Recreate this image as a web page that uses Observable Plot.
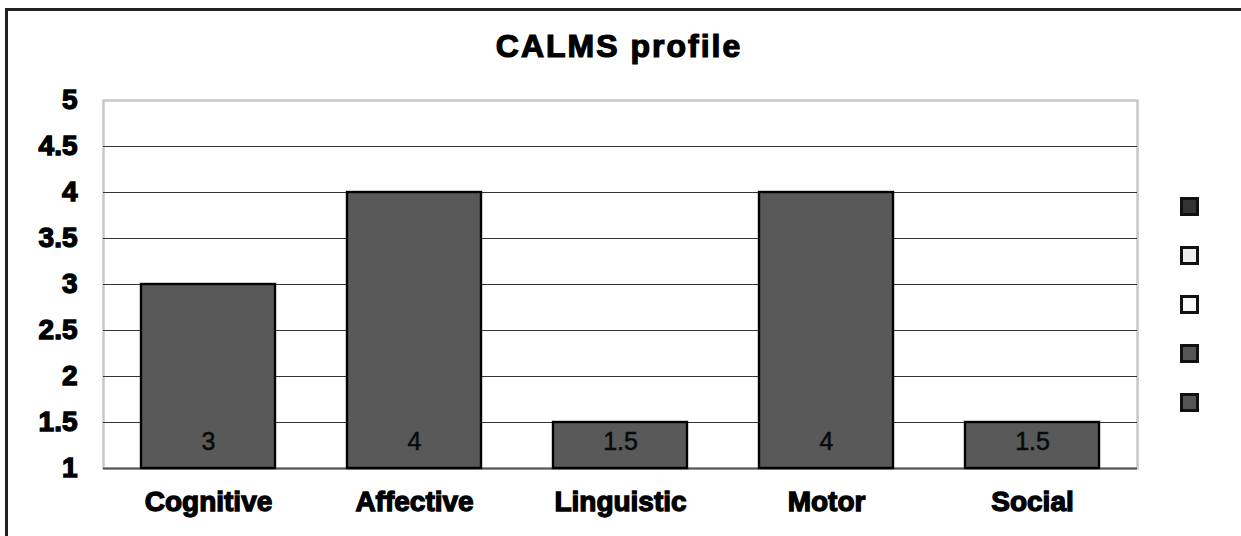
<!DOCTYPE html>
<html>
<head>
<meta charset="utf-8">
<script src="https://cdn.jsdelivr.net/npm/d3@7"></script>
<script src="https://cdn.jsdelivr.net/npm/@observablehq/plot@0.6"></script>
<style>
  html, body { margin: 0; padding: 0; background: #fff; }
  body { width: 1241px; height: 536px; overflow: hidden; position: relative; font-family: "Liberation Sans", Arial, sans-serif; }
  #frame { position: absolute; left: 5px; top: 8px; width: 1300px; height: 600px; border: 3px solid #222; box-sizing: border-box; }
  #title { position: absolute; left: 0; width: 1238px; top: 28px; text-align: center; font-weight: bold; font-size: 32px; letter-spacing: 2px; color: #000; -webkit-text-stroke: 1.2px #000; }
  #chart { position: absolute; left: 0; top: 0; }
  .sw { position: absolute; width: 19px; height: 19px; box-sizing: border-box; border: 3px solid #111; }
</style>
</head>
<body>
<div id="frame"></div>
<div id="title">CALMS profile</div>
<div id="chart"></div>
<div id="legend"></div>
<script>
const categories = ["Cognitive", "Affective", "Linguistic", "Motor", "Social"];
const values = [3, 4, 1.5, 4, 1.5];
const valueLabels = ["3", "4", "1.5", "4", "1.5"];
const yTicks = [1, 1.5, 2, 2.5, 3, 3.5, 4, 4.5, 5];
const yTickLabels = ["1", "1.5", "2", "2.5", "3", "3.5", "4", "4.5", "5"];
const legendColors = ["#333333", "#eeeeee", "#f8f8f8", "#555555", "#555555"];

const data = categories.map((c, i) => ({category: c, value: values[i], label: valueLabels[i]}));
const innerGrid = yTicks.filter(t => t !== yTicks[0] && t !== yTicks[yTicks.length - 1]);

const chart = Plot.plot({
  width: 1241,
  height: 536,
  marginLeft: 103,
  marginRight: 104,
  marginTop: 100,
  marginBottom: 68,
  style: {fontFamily: "'Liberation Sans', Arial, sans-serif", background: "transparent", overflow: "visible"},
  x: {domain: categories, paddingInner: 0.35, paddingOuter: 0.175},
  y: {domain: [yTicks[0], yTicks[yTicks.length - 1]]},
  marks: [
    Plot.frame({stroke: "#c8c8c8", strokeWidth: 2.5}),
    Plot.ruleY(innerGrid, {stroke: "#333", strokeWidth: 1.2}),
    Plot.ruleY([yTicks[0]], {stroke: "#555", strokeWidth: 2}),
    Plot.barY(data, {x: "category", y1: yTicks[0], y2: "value", fill: "#595959", stroke: "#000", strokeWidth: 2.4}),
    Plot.text(data, {x: "category", text: "label", frameAnchor: "bottom", dy: -19, fontSize: 25, fill: "#0a0a0a", stroke: "#0a0a0a", strokeWidth: 0.5}),
    Plot.axisY({ticks: yTicks, tickFormat: (d) => yTickLabels[yTicks.indexOf(d)], tickSize: 0, tickPadding: 26, fontSize: 28, fontWeight: "bold", line: true, stroke: "#000", strokeWidth: 1.5, fill: "#000", label: null}),
    Plot.axisX({tickSize: 0, tickPadding: 23, fontSize: 28, fontWeight: "bold", fill: "#000", label: null})
  ]
});
document.getElementById("chart").appendChild(chart);

// heavier tick label rendering
d3.select(chart).selectAll("[aria-label='y-axis tick label'] text, [aria-label='x-axis tick label'] text")
  .attr("stroke", "#000").attr("stroke-width", 1.3).attr("paint-order", "stroke");

const legend = document.getElementById("legend");
legendColors.forEach((c, i) => {
  const d = document.createElement("div");
  d.className = "sw";
  d.style.left = "1180px";
  d.style.top = (197 + i * 49) + "px";
  d.style.background = c;
  legend.appendChild(d);
});
</script>
</body>
</html>
